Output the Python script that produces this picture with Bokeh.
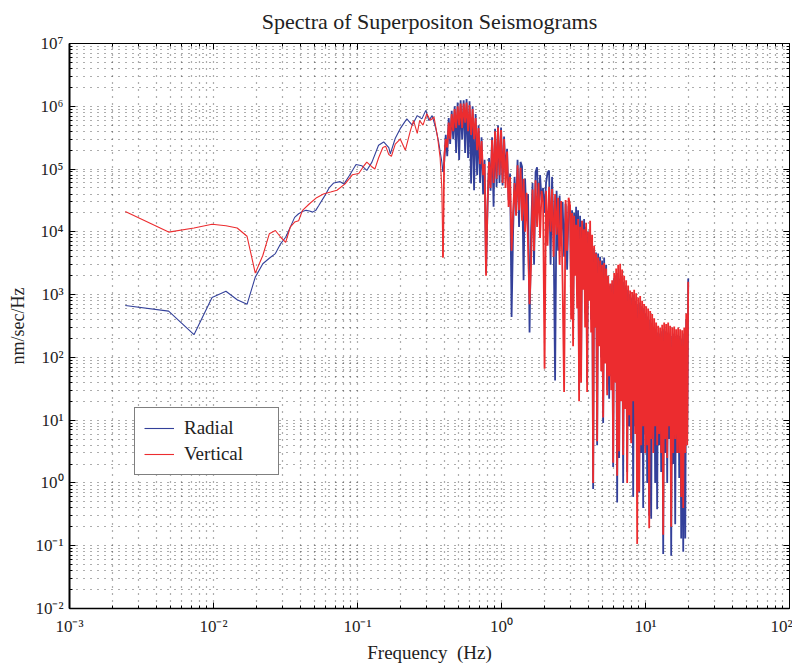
from bokeh.plotting import figure
from bokeh.models import FixedTicker, LogAxis, Legend, LegendItem
from bokeh.embed import file_html
from bokeh.resources import INLINE

# ---------------- data ----------------
radial_freq_low = [0.00244, 0.00488, 0.00732, 0.00977, 0.0122, 0.0146, 0.0171, 0.0195, 0.0220, 0.0244,
                   0.0269, 0.0293, 0.0317, 0.0342, 0.0366, 0.0390, 0.0415, 0.0439, 0.0464, 0.0488,
                   0.0513, 0.0537, 0.0586, 0.0635, 0.0684, 0.0757, 0.0806, 0.0879, 0.0977, 0.107,
                   0.116, 0.126, 0.140, 0.152, 0.165, 0.169, 0.183, 0.198, 0.220, 0.240,
                   0.260, 0.280, 0.298, 0.313, 0.330, 0.350, 0.366, 0.385, 0.392]
radial_low = [670, 545, 230, 900, 1130, 830, 700, 1900, 3100, 3800,
              4500, 6500, 8200, 1.2e4, 1.7e4, 1.94e4, 2.1e4, 2.2e4, 2.15e4, 2.06e4,
              2.2e4, 2.6e4, 3.6e4, 5.0e4, 6.0e4, 6.3e4, 5.8e4, 7.9e4, 1.18e5, 1.13e5,
              9.5e4, 1.29e5, 2.4e5, 2.7e5, 2.2e5, 1.75e5, 3.1e5, 4.4e5, 6.3e5, 5.0e5,
              7.1e5, 6.3e5, 8.6e5, 5.9e5, 7.1e5, 4.4e5, 2.7e5, 1.3e5, 9.0e4]

vertical_freq_low = [0.00244, 0.00488, 0.00732, 0.00977, 0.0122, 0.0146, 0.0171, 0.0195, 0.0220, 0.0244,
                     0.0269, 0.0293, 0.0317, 0.0342, 0.0366, 0.0390, 0.0415, 0.0464, 0.0520, 0.0580,
                     0.0650, 0.0720, 0.0820, 0.0920, 0.102, 0.110, 0.116, 0.125, 0.132, 0.140,
                     0.150, 0.157, 0.165, 0.172, 0.183, 0.198, 0.215, 0.233, 0.245, 0.260,
                     0.270, 0.285, 0.303, 0.320, 0.340, 0.360, 0.375, 0.385, 0.392]
vertical_low = [2.1e4, 9.9e3, 1.15e4, 1.32e4, 1.25e4, 1.15e4, 8.5e3, 2.2e3, 4.2e3, 9.3e3,
                1.05e4, 8.2e3, 6.8e3, 1.2e4, 1.43e4, 1.5e4, 2.2e4, 2.8e4, 3.5e4, 4.0e4,
                4.3e4, 4.6e4, 5.8e4, 8.1e4, 8.5e4, 1.1e5, 1.29e5, 1.1e5, 1.0e5, 1.5e5,
                2.2e5, 2.3e5, 1.7e5, 1.6e5, 2.5e5, 3.0e5, 2.0e5, 4.1e5, 5.9e5, 3.7e5,
                5.9e5, 5.0e5, 7.6e5, 6.0e5, 6.7e5, 3.2e5, 1.5e5, 5.0e4, 3.9e3]

freq_mid = [0.400, 0.410, 0.420, 0.430, 0.440, 0.451, 0.462, 0.473, 0.484, 0.496,
            0.508, 0.520, 0.533, 0.546, 0.559, 0.572, 0.586, 0.600, 0.615, 0.630,
            0.645, 0.661, 0.677, 0.693, 0.710, 0.727, 0.745, 0.763, 0.781, 0.800,
            0.820, 0.840, 0.860, 0.881, 0.902, 0.924, 0.946, 0.969, 0.993, 1.017,
            1.042, 1.067, 1.093, 1.120, 1.147, 1.175, 1.203, 1.232, 1.262, 1.293,
            1.324, 1.356, 1.389, 1.423, 1.458, 1.493, 1.529, 1.566, 1.604, 1.643,
            1.683, 1.724, 1.766, 1.809, 1.853, 1.898, 1.944, 1.991, 2.039, 2.089,
            2.140, 2.192, 2.245, 2.300, 2.356, 2.413, 2.472, 2.532, 2.594, 2.657,
            2.721, 2.787, 2.855, 2.924]
radial_mid = [1.3e5, 3.5e5, 1.6e5, 6.5e5, 2.5e5, 8.5e5, 3.0e5, 1.0e6, 1.8e5, 1.15e6,
              1.4e5, 1.25e6, 3.0e5, 1.25e6, 1.8e5, 1.3e6, 1.5e5, 1.2e6, 5.9e4, 1.0e6,
              4.6e4, 7.5e5, 8.0e4, 5.0e5, 6.0e4, 3.2e5, 4.0e4, 1.4e5, 2.2e3, 2.5e4,
              1.5e5, 4.5e4, 3.2e5, 2.5e4, 4.4e5, 5.2e4, 5.0e5, 6.0e4, 4.6e5, 5.5e4,
              3.3e5, 8.5e4, 2.1e5, 3.2e4, 8.5e4, 4.4e2, 9.3e3, 7.5e4, 2.4e4, 1.4e5,
              1.2e4, 1.3e5, 1.1e5, 1.7e3, 7.0e4, 1.5e4, 4.0e4, 2.5e2, 1.0e4, 6.0e4,
              3.0e3, 9.0e4, 1.07e5, 2.0e4, 8.0e4, 3.2e4, 5.0e4, 2.0e4, 6.0e4, 8.8e4,
              9.5e4, 3.0e3, 7.5e4, 1.0e4, 4.3e1, 4.5e4, 5.0e3, 3.8e4, 8.0e3, 3.0e4,
              4.0e3, 2.8e4, 2.5e3, 2.6e4]
vertical_mid = [1.5e5, 3.0e5, 2.2e5, 5.5e5, 3.0e5, 7.5e5, 4.0e5, 9.0e5, 4.5e5, 1.0e6,
                5.0e5, 1.1e6, 4.5e5, 1.1e6, 5.5e5, 1.15e6, 4.0e5, 1.05e6, 3.5e5, 9.0e5,
                3.0e5, 6.5e5, 2.0e5, 4.5e5, 1.2e5, 2.8e5, 8.0e4, 1.2e5, 2.0e3, 3.0e4,
                1.3e5, 5.0e4, 2.9e5, 6.0e4, 4.0e5, 7.0e4, 4.6e5, 8.0e4, 4.2e5, 6.0e4,
                3.0e5, 5.0e4, 1.9e5, 2.5e4, 7.5e4, 5.0e3, 2.0e4, 6.0e4, 1.8e4, 1.15e5,
                2.2e4, 1.05e5, 1.5e4, 7.0e4, 1.0e4, 4.2e4, 6.0e3, 7.0e2, 3.0e3, 4.7e4,
                5.0e3, 6.6e4, 1.2e4, 6.0e4, 8.0e3, 4.5e4, 3.0e4, 6.6e1, 4.5e4, 6.0e3,
                5.2e4, 1.0e4, 4.8e4, 4.0e3, 4.0e4, 9.0e3, 3.5e4, 3.0e3, 3.1e4, 1.5e3,
                2.8e1, 3.2e4, 5.0e3, 3.5e4]

freq_high = [2.995, 3.043, 3.092, 3.142, 3.193, 3.245, 3.297, 3.350, 3.404, 3.459,
             3.515, 3.572, 3.630, 3.688, 3.748, 3.808, 3.870, 3.932, 3.996, 4.060,
             4.126, 4.192, 4.260, 4.329, 4.398, 4.469, 4.541, 4.615, 4.689, 4.765,
             4.842, 4.920, 4.999, 5.080, 5.162, 5.245, 5.330, 5.416, 5.503, 5.592,
             5.682, 5.774, 5.867, 5.962, 6.058, 6.156, 6.255, 6.356, 6.458, 6.562,
             6.668, 6.776, 6.885, 6.996, 7.109, 7.224, 7.340, 7.459, 7.579, 7.701,
             7.826, 7.952, 8.080, 8.211, 8.343, 8.478, 8.615, 8.754, 8.895, 9.038,
             9.184, 9.332, 9.482, 9.635, 9.791, 9.949, 10.11, 10.27, 10.44, 10.61,
             10.78, 10.95, 11.13, 11.31, 11.49, 11.67, 11.86, 12.05, 12.25, 12.44,
             12.65, 12.85, 13.06, 13.27, 13.48, 13.70, 13.92, 14.15, 14.37, 14.61,
             14.84, 15.08, 15.33, 15.57, 15.83, 16.08, 16.34, 16.61, 16.87, 17.15,
             17.42, 17.70, 17.99, 18.28, 18.58, 18.88, 19.18, 19.49, 19.80]
radial_high = [2.6e4, 1.0e3, 2.2e4, 3.0e2, 2.0e4, 2.5e3, 2.5e4, 1.0e3, 2.2e4, 3.0e1,
               1.8e4, 8.0e1, 1.5e4, 2.0e3, 1.6e4, 5.0e2, 1.2e4, 4.0e1, 1.0e4, 1.2e3,
               8.0e3, 4.0e2, 7.0e3, 8.0e-1, 5.5e3, 5.0e2, 4.7e3, 4.0e0, 4.5e3, 2.5e2,
               4.0e3, 1.0e2, 3.5e3, 9.0e0, 3.9e3, 1.2e2, 3.0e3, 3.0e1, 2.0e3, 2.2e1,
               1.4e3, 5.0e1, 1.5e3, 1.8e0, 1.8e3, 6.0e1, 2.0e3, 4.9e-1, 2.2e3, 2.5e0,
               1.8e3, 3.0e1, 2.0e3, 1.0e0, 1.6e3, 2.0e1, 1.4e3, 1.5e0, 1.2e3, 8.0e0,
               1.0e3, 5.0e0, 9.0e2, 6.0e-1, 1.0e3, 8.0e0, 8.0e2, 2.0e0, 7.0e2, 7.0e-1,
               7.5e2, 3.0e0, 6.5e2, 4.0e-1, 6.0e2, 6.0e0, 5.0e2, 1.0e0, 4.5e2, 3.0e-1,
               4.0e2, 2.7e-1, 3.5e2, 5.0e0, 3.0e2, 1.0e0, 2.8e2, 3.8e-1, 2.5e2, 4.0e0,
               2.4e2, 1.5e0, 2.6e2, 7.4e-2, 2.8e2, 3.0e0, 2.6e2, 1.0e0, 2.5e2, 5.0e0,
               2.4e2, 6.9e-2, 2.2e2, 2.0e0, 2.4e2, 2.2e-1, 2.2e2, 3.0e0, 2.3e2, 1.2e0,
               2.2e2, 1.3e-1, 2.0e2, 8.0e-2, 2.4e2, 1.3e-1, 4.0e2, 6.0e0, 1.8e3]
vertical_high = [2.6e4, 4.0e2, 2.0e4, 1.5e2, 1.8e4, 2.0e3, 1.3e4, 6.0e2, 1.6e4, 2.0e1,
                 1.2e4, 4.0e1, 1.5e4, 1.2e3, 1.1e4, 3.0e2, 1.4e4, 2.8e1, 1.0e4, 8.0e2,
                 1.5e4, 2.5e2, 9.0e3, 1.0e0, 6.0e3, 3.0e2, 4.5e3, 4.6e0, 3.9e3, 1.5e2,
                 3.5e3, 6.0e1, 3.0e3, 1.1e1, 3.2e3, 8.0e1, 2.6e3, 2.5e1, 2.0e3, 5.0e1,
                 1.5e3, 3.0e1, 1.7e3, 2.1e0, 2.2e3, 4.0e1, 2.6e3, 1.3e0, 3.0e3, 3.2e0,
                 3.1e3, 2.0e1, 2.5e3, 2.8e0, 2.0e3, 1.5e1, 1.7e3, 1.0e0, 1.4e3, 1.2e1,
                 1.16e3, 4.3e0, 1.1e3, 2.0e1, 1.2e3, 6.0e0, 1.05e3, 1.07e-1, 9.0e2, 7.3e-1,
                 9.5e2, 4.0e0, 8.0e2, 8.0e0, 7.1e2, 3.0e0, 6.5e2, 4.0e0, 6.0e2, 1.9e-1,
                 5.5e2, 5.0e0, 4.9e2, 3.0e0, 4.2e2, 8.0e0, 3.6e2, 4.0e0, 3.2e2, 6.0e0,
                 3.0e2, 3.0e0, 3.3e2, 1.5e-1, 3.6e2, 5.0e0, 3.4e2, 2.5e0, 3.6e2, 8.0e0,
                 3.2e2, 2.0e-1, 3.0e2, 3.0e0, 3.1e2, 5.0e0, 2.8e2, 3.0e0, 3.0e2, 3.0e0,
                 2.8e2, 6.0e-1, 2.7e2, 4.0e-1, 3.0e2, 3.0e0, 5.0e2, 4.0e0, 1.6e3]

x_tick_values = [0.001, 0.01, 0.1, 1, 10, 100]
x_tick_labels = ["10\u207b\u00b3", "10\u207b\u00b2", "10\u207b\u00b9", "10\u2070", "10\u00b9", "10\u00b2"]
y_tick_values = [0.01, 0.1, 1, 10, 100, 1000, 10000, 100000, 1000000, 10000000]
y_tick_labels = ["10\u207b\u00b2", "10\u207b\u00b9", "10\u2070", "10\u00b9", "10\u00b2",
                 "10\u00b3", "10\u2074", "10\u2075", "10\u2076", "10\u2077"]
series_names = ["Radial", "Vertical"]
# --------------------------------------------------------------

BLUE = "#33409a"
RED = "#ec2c2f"
FONT = "Liberation Serif"

def pair(f, v):
    n = min(len(f), len(v))
    return list(f[:n]), list(v[:n])

r_lo_f, r_lo_v = pair(radial_freq_low, radial_low)
v_lo_f, v_lo_v = pair(vertical_freq_low, vertical_low)
r_hi_f, r_hi_v = pair([radial_freq_low[-1]] + freq_mid + freq_high,
                      [radial_low[-1]] + radial_mid + radial_high)
v_hi_f, v_hi_v = pair([vertical_freq_low[-1]] + freq_mid + freq_high,
                      [vertical_low[-1]] + vertical_mid + vertical_high)

x_minor = [m * t for t in x_tick_values[:-1] for m in range(2, 10)]
y_minor = [m * t for t in y_tick_values[:-1] for m in range(2, 10)]

p = figure(frame_width=720, frame_height=565, x_axis_type="log", y_axis_type="log",
           x_range=(1e-3, 1e2), y_range=(1e-2, 1e7),
           output_backend="svg", toolbar_location=None,
           min_border_left=69, min_border_right=3, min_border_top=43, min_border_bottom=50,
           title="Spectra of Superpositon Seismograms")
p.background_fill_color = "white"
p.border_fill_color = "white"
p.outline_line_color = "black"
p.outline_line_width = 1

p.title.text_font = FONT
p.title.text_font_size = "22px"
p.title.text_font_style = "normal"
p.title.text_color = "#222222"
p.title.align = "center"
p.title.vertical_align = "top"
p.title.standoff = 15

xt = FixedTicker(ticks=x_tick_values, minor_ticks=x_minor)
yt = FixedTicker(ticks=y_tick_values, minor_ticks=y_minor)

def style_axis(ax, labels=True):
    ax.major_tick_in = 6
    ax.major_tick_out = 0
    ax.minor_tick_in = 3
    ax.minor_tick_out = 0
    ax.axis_line_color = "black"
    ax.major_tick_line_color = "black"
    ax.minor_tick_line_color = "black"
    if labels:
        ax.major_label_text_font = FONT
        ax.major_label_text_font_size = "17px"
        ax.major_label_text_color = "#222222"
        ax.axis_label_text_font = FONT
        ax.axis_label_text_font_style = "normal"
        ax.axis_label_text_color = "#222222"

xa = p.xaxis[0]
xa.ticker = xt
xa.major_label_overrides = dict(zip(x_tick_values, x_tick_labels))
xa.axis_label = "Frequency\u00a0 (Hz)"
style_axis(xa)
xa.axis_label_text_font_size = "19px"
xa.axis_line_width = 1.5
xa.major_label_standoff = 8
xa.axis_label_standoff = 3

ya = p.yaxis[0]
ya.ticker = yt
ya.major_label_overrides = dict(zip(y_tick_values, y_tick_labels))
ya.axis_label = "nm/sec/Hz"
style_axis(ya)
ya.axis_label_text_font_size = "18px"
ya.axis_line_width = 2
ya.major_label_standoff = 6
ya.axis_label_standoff = 4

top = LogAxis(ticker=FixedTicker(ticks=x_tick_values, minor_ticks=x_minor),
              major_label_text_font_size="1px", major_label_text_color=None,
              major_label_standoff=0, axis_label_standoff=0)
style_axis(top, labels=False)
p.add_layout(top, "above")
right = LogAxis(ticker=FixedTicker(ticks=y_tick_values, minor_ticks=y_minor),
                major_label_text_font_size="1px", major_label_text_color=None,
                major_label_standoff=0, axis_label_standoff=0)
style_axis(right, labels=False)
p.add_layout(right, "right")

for g, t in ((p.xgrid[0], xt), (p.ygrid[0], yt)):
    g.ticker = t
    g.grid_line_color = "#333333"
    g.grid_line_alpha = 0.8
    g.grid_line_width = 1.2
    g.grid_line_dash = "1 6"
    g.minor_grid_line_color = "#333333"
    g.minor_grid_line_alpha = 0.8
    g.minor_grid_line_width = 1.2
    g.minor_grid_line_dash = "1 6"

rb = p.line(r_lo_f, r_lo_v, line_color=BLUE, line_width=1.1)
p.line(r_hi_f, r_hi_v, line_color=BLUE, line_width=1.8)
rr = p.line(v_lo_f, v_lo_v, line_color=RED, line_width=1.1)
p.line(v_hi_f, v_hi_v, line_color=RED, line_width=1.8)

legend = Legend(items=[LegendItem(label=series_names[0], renderers=[rb]),
                       LegendItem(label=series_names[1], renderers=[rr])],
                location=(65, 133), margin=0,
                label_text_font=FONT, label_text_font_size="19px", label_text_color="#222222",
                border_line_color="black", border_line_width=1.5,
                background_fill_color="white", background_fill_alpha=1.0,
                padding=9, spacing=4, glyph_width=30, glyph_height=22,
                label_height=22, label_width=85, label_standoff=10)
p.add_layout(legend, "center")

with open("out.html", "w", encoding="utf-8") as fh:
    fh.write(file_html(p, INLINE))
